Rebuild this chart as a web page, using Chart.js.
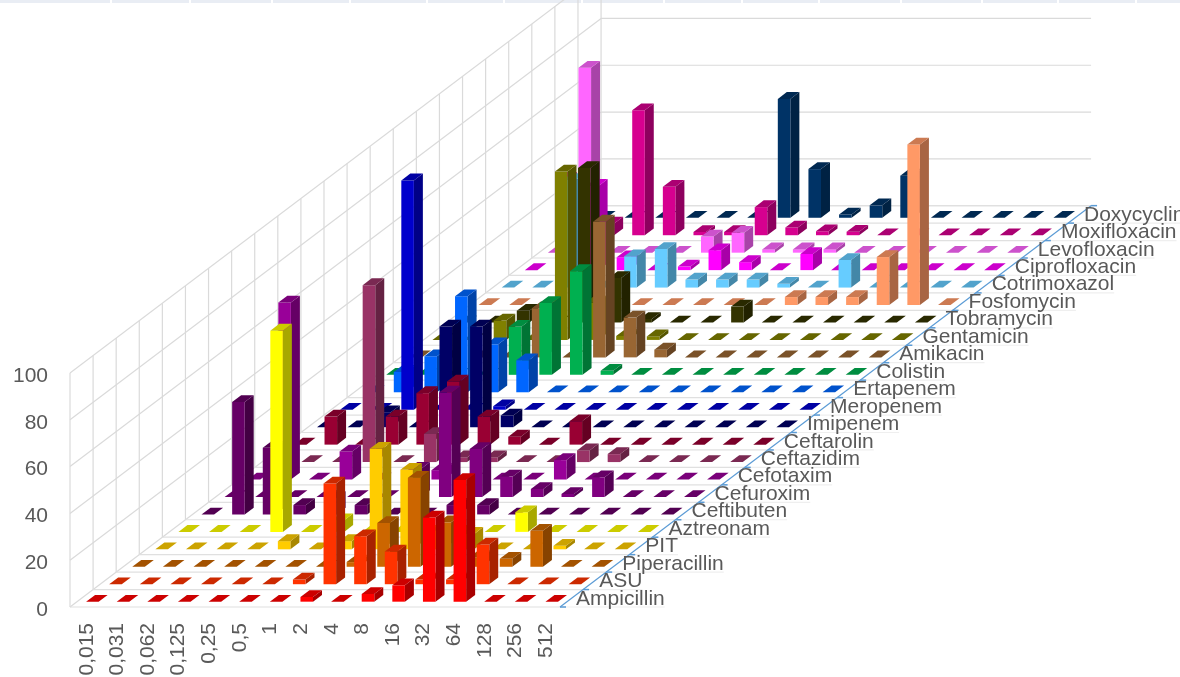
<!DOCTYPE html>
<html>
<head>
<meta charset="utf-8">
<title>MIC distribution</title>
<script src="https://cdn.jsdelivr.net/npm/chart.js@4"></script>
<style>
  html, body { margin: 0; padding: 0; background: #fff; overflow: hidden; }
  canvas { display: block; }
</style>
</head>
<body>
<canvas id="micChart" width="1180" height="677"></canvas>
<script>
const micLabels = ['0,015','0,031','0,062','0,125','0,25','0,5','1','2','4','8','16','32','64','128','256','512'];
const valueTicks = [0, 20, 40, 60, 80, 100];

const drugNames = ['Ampicillin','ASU','Piperacillin','PIT','Aztreonam','Ceftibuten','Cefuroxim','Cefotaxim',
  'Ceftazidim','Ceftarolin','Imipenem','Meropenem','Ertapenem','Colistin','Amikacin','Gentamicin','Tobramycin',
  'Fosfomycin','Cotrimoxazol','Ciprofloxacin','Levofloxacin','Moxifloxacin','Doxycyclin'];

const drugColors = ['#FF0000','#FF3300','#CC6600','#FFCC00','#FFFF00','#660066','#800080','#990099',
  '#993366','#990033','#000066','#0000CC','#0066FF','#00B050','#996633','#808000','#333300',
  '#FF9966','#66CCFF','#FF00FF','#FF66FF','#D6008F','#003366'];

const ampicillin   = [0,0,0,0,0,0,0,2,0,3.3,7,36,52,0,0,0];
const asu          = [0,0,0,0,0,0,2,43,20.5,14,2,2,17,0,0,0];
const piperacillin = [0,0,0,0,0,0,0,2,18.7,38,19,4,3.4,15.4,0,0];
const pit          = [0,0,0,0,3.5,0,3.5,43,34,8,6.6,0,0,1.5,0,0];
const aztreonam    = [0,0,0,86,0,5,0,0,0,0,0,8.4,0,0,0,0];
const ceftibuten   = [0,48,28.5,4,7,4,0,0,4,4,0,0,0,0,0,0];
const cefuroxim    = [0,0,0,0,0,0,12,44.6,20.5,8.7,3.4,1.3,8.4,0,0,0];
const cefotaxim    = [0,75.6,0,12,0,0,4,0,0,0,8.3,0,0,0,0,0];
const ceftazidim   = [0,0,0,75.6,0,12,2,2,0,0,5,3.4,0,0,0,0];
const ceftarolin   = [0,12,0,12,22,27,12,3.4,0,10,0,0,0,0,0,0];
const imipenem     = [0,0,6.4,0,43,43,5,0,0,0,0,0,0,0,0,0];
const meropenem    = [0,0,98,0,0,1.5,0,0,0,0,0,0,0,0,0,0];
const ertapenem    = [0,8.7,15.4,41,20.5,13.7,0,0,0,0,0,0,0,0,0,0];
const colistin     = [0,0,0,0,20.5,30.7,44.3,1.7,0,0,0,0,0,0,0,0];
const amikacin     = [0,0,0,0,21,0,58,17,3.3,0,0,0,0,0,0,0];
const gentamicin   = [0,0,8.3,0,72,16,1.7,1.5,0,0,0,0,0,0,0,0];
const tobramycin   = [0,0,5,0,66,19,1.5,0,0,6.8,0,0,0,0,0,0];
const fosfomycin   = [0,0,0,0,0,0,0,0,0,0,3.4,3.4,3.4,20.5,68.6,0];
const cotrimoxazol = [0,0,46,0,13.4,16.5,3.4,3.4,3.4,1.6,0,11.8,0,0,0,0];
const ciprofloxacin = [0,39,36,5.5,0,1.5,8.5,3.4,0,6.9,0,0,0,0,0,0];
const levofloxacin = [0,79,0,0,0,6.9,8.5,1.4,1.4,1.4,0,0,0,0,0,0];
const moxifloxacin = [0,5,53.4,20.7,1.4,1.4,12,3.3,1.7,1.5,0,0,0,0,0,0];
const doxycyclin   = [0,0,0,0,0,0,50.8,20.8,1.4,5.3,18,0,0,0,0,0];

const drugValues = [ampicillin, asu, piperacillin, pit, aztreonam, ceftibuten, cefuroxim, cefotaxim,
  ceftazidim, ceftarolin, imipenem, meropenem, ertapenem, colistin, amikacin, gentamicin, tobramycin,
  fosfomycin, cotrimoxazol, ciprofloxacin, levofloxacin, moxifloxacin, doxycyclin];

// oblique projection: one row of depth moves the drawing right and up
const rowDx = 23.09;
const rowDy = -17.45;
const barDx = 9;
const barDy = -6.8;
const rows = drugNames.length;

function shade(hex, f) {
  const n = parseInt(hex.slice(1), 16);
  const r = Math.round((n >> 16 & 255) * f);
  const g = Math.round((n >> 8 & 255) * f);
  const b = Math.round((n & 255) * f);
  return `rgb(${r},${g},${b})`;
}

function poly(ctx, pts, fill) {
  ctx.beginPath();
  ctx.moveTo(pts[0][0], pts[0][1]);
  for (let i = 1; i < pts.length; i++) ctx.lineTo(pts[i][0], pts[i][1]);
  ctx.closePath();
  ctx.fillStyle = fill;
  ctx.fill();
}

// bar controller that draws each element as a box, shifted back by its row
class Bar3dController extends Chart.BarController {
  static id = 'bar3d';
  static defaults = Chart.BarController.defaults;

  draw() {
    const ctx = this.chart.ctx;
    const color = this.getDataset().backgroundColor;
    const shiftX = (this.index + 0.5) * rowDx - barDx / 2;
    const shiftY = (this.index + 0.5) * rowDy - barDy / 2;
    this._cachedMeta.data.forEach(bar => {
      const { x, y, base, width } = bar.getProps(['x', 'y', 'base', 'width'], true);
      const l = x - width / 2 + shiftX;
      const r = x + width / 2 + shiftX;
      const t = y + shiftY;
      const b = base + shiftY;
      if (b - t > 0.5) {
        poly(ctx, [[r, t], [r + barDx, t + barDy], [r + barDx, b + barDy], [r, b]], shade(color, 0.66));
        poly(ctx, [[l, t], [r, t], [r, b], [l, b]], color);
      }
      poly(ctx, [[l, t], [r, t], [r + barDx, t + barDy], [l + barDx, t + barDy]], shade(color, 0.8));
    });
  }
}
Chart.register(Bar3dController);

// walls, floor lines, depth axis and its labels
const frame3d = {
  id: 'frame3d',
  beforeDatasetsDraw(chart) {
    const { ctx, scales: { x, y } } = chart;
    const x0 = x.left, x1 = x.right, y0 = y.bottom, y1 = y.top;
    ctx.save();

    // strip along the top edge of the picture
    ctx.fillStyle = '#e9edf4';
    ctx.fillRect(0, 0, 1180, 3);
    ctx.fillStyle = '#fff';
    [110, 189, 271, 349, 426, 503, 581, 663, 741, 818, 900, 981, 1057, 1135].forEach(p => ctx.fillRect(p, 0, 2, 3));

    ctx.strokeStyle = '#dadada';
    ctx.lineWidth = 1.2;
    const seg = (a, b, c, d) => { ctx.beginPath(); ctx.moveTo(a, b); ctx.lineTo(c, d); ctx.stroke(); };

    // left wall and back wall
    valueTicks.forEach(v => {
      const py = y.getPixelForValue(v);
      seg(x0, py, x0 + rows * rowDx, py + rows * rowDy);
      seg(x0 + rows * rowDx, py + rows * rowDy, x1 + rows * rowDx, py + rows * rowDy);
    });
    for (let k = 0; k <= rows; k++) {
      seg(x0 + k * rowDx, y0 + k * rowDy, x0 + k * rowDx, y1 + k * rowDy);
    }

    ctx.font = '21px "Liberation Sans"';

    // floor lines, running on faintly under the row labels
    ctx.strokeStyle = '#e0e0e0';
    for (let k = 0; k <= rows; k++) {
      seg(x0 + k * rowDx, y0 + k * rowDy, x1 + k * rowDx, y0 + k * rowDy);
    }
    ctx.strokeStyle = '#efefef';
    drugNames.forEach((name, k) => {
      const end = x1 + (k + 0.5) * rowDx + 4.5 + ctx.measureText(name).width;
      seg(x1 + k * rowDx, y0 + k * rowDy, end, y0 + k * rowDy);
    });

    // depth axis
    ctx.strokeStyle = '#5b9bd5';
    ctx.lineWidth = 1.2;
    seg(x1, y0, x1 + rows * rowDx, y0 + rows * rowDy);
    ctx.lineWidth = 1.5;
    for (let k = 0; k <= rows; k++) {
      seg(x1 + k * rowDx, y0 + k * rowDy, x1 + k * rowDx + 6, y0 + k * rowDy);
    }

    ctx.fillStyle = '#595959';
    ctx.textAlign = 'left';
    ctx.textBaseline = 'middle';
    drugNames.forEach((name, i) => {
      ctx.fillText(name, x1 + (i + 0.5) * rowDx + 4.5, y0 + (i + 0.5) * rowDy + 0.5);
    });
    ctx.restore();
  }
};

new Chart(document.getElementById('micChart').getContext('2d'), {
  type: 'bar3d',
  plugins: [frame3d],
  data: {
    labels: micLabels,
    datasets: drugNames.map((name, i) => ({
      label: name,
      data: drugValues[i],
      backgroundColor: drugColors[i],
      grouped: false,
      clip: false,
      barPercentage: 0.41,
      categoryPercentage: 1
    }))
  },
  options: {
    responsive: false,
    animation: false,
    layout: { padding: { top: 373, right: 620, left: 0, bottom: 0 } },
    plugins: { legend: { display: false }, title: { display: false }, tooltip: { enabled: false } },
    scales: {
      x: {
        type: 'category',
        offset: true,
        grid: { display: false },
        border: { display: false },
        afterFit(scale) { scale.height = 70; },
        ticks: {
          autoSkip: false,
          minRotation: 90,
          maxRotation: 90,
          padding: 8,
          labelOffset: 1.5,
          color: '#595959',
          font: { family: '"Liberation Sans"', size: 21 }
        }
      },
      y: {
        type: 'linear',
        min: 0,
        max: 100,
        grid: { display: false },
        border: { display: false },
        afterFit(scale) { scale.width = 70; },
        ticks: {
          stepSize: 20,
          padding: 14,
          labelOffset: 3,
          color: '#595959',
          font: { family: '"Liberation Sans"', size: 21 }
        }
      }
    }
  }
});
</script>
</body>
</html>
